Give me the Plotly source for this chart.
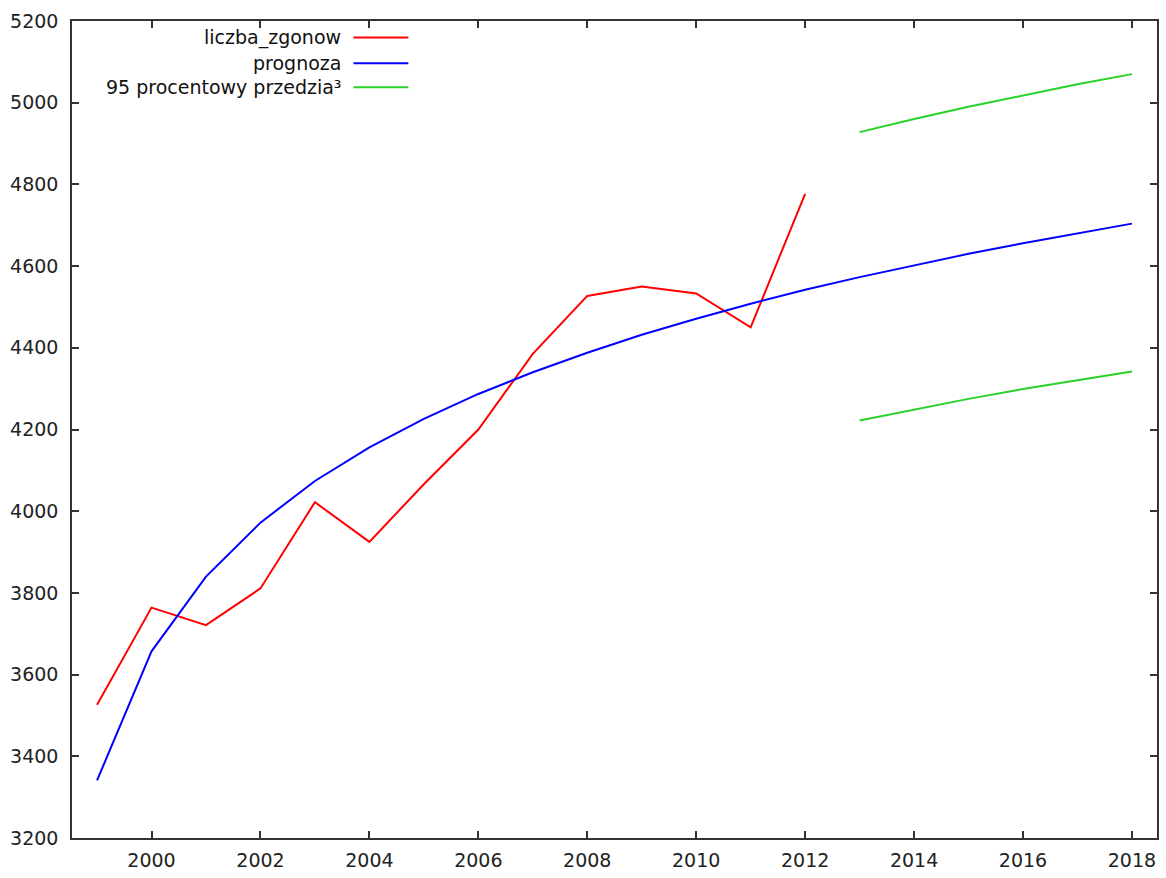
import plotly.graph_objects as go

years_obs = [1999, 2000, 2001, 2002, 2003, 2004, 2005, 2006, 2007, 2008, 2009, 2010, 2011, 2012]
liczba_zgonow = [3526, 3764, 3721, 3811, 4022, 3925, 4066, 4200, 4385, 4527, 4550, 4533, 4450, 4777]

years_fc = list(range(1999, 2019))
prognoza = [3341, 3657, 3840, 3972, 4074, 4156, 4226, 4287, 4340, 4388,
            4432, 4471, 4508, 4542, 4573, 4602, 4630, 4656, 4680, 4704]

years_ci = [2013, 2014, 2015, 2016, 2017, 2018]
ci_upper = [4928, 4960, 4990, 5018, 5045, 5070]
ci_lower = [4222, 4249, 4275, 4299, 4321, 4342]

legend_labels = ["liczba_zgonow", "prognoza", "95 procentowy przedzia\u00b3"]

RED = "rgb(255,0,0)"
BLUE = "rgb(0,0,255)"
GREEN = "rgb(40,210,40)"
colors = [RED, BLUE, GREEN]

fig = go.Figure()
fig.add_trace(go.Scatter(x=years_obs, y=liczba_zgonow, mode="lines",
                         line=dict(color=RED, width=2), showlegend=False))
fig.add_trace(go.Scatter(x=years_fc, y=prognoza, mode="lines",
                         line=dict(color=BLUE, width=2), showlegend=False))
fig.add_trace(go.Scatter(x=years_ci + [None] + years_ci,
                         y=ci_upper + [None] + ci_lower, mode="lines",
                         line=dict(color=GREEN, width=2), showlegend=False,
                         connectgaps=False))

FONT = "DejaVu Sans, Verdana, sans-serif"

W, H = 1166, 878
# plot box in screen pixels
X0, X1, Y0, Y1 = 72, 1159, 21, 843
ml, mr, mt, mb = X0, W - X1, Y0, H - Y1
pw, ph = X1 - X0, Y1 - Y0

rows_y = [37.5, 63.5, 87.7]
for lab, col, ry in zip(legend_labels, colors, rows_y):
    yp = (Y1 - ry) / ph
    fig.add_annotation(x=(344 - X0) / pw, y=yp, xref="paper", yref="paper",
                       text=lab, showarrow=False, xanchor="right", yanchor="middle",
                       font=dict(family=FONT, size=19, color="#111"))
    fig.add_shape(type="line", xref="paper", yref="paper",
                  x0=(354 - X0) / pw, x1=(409 - X0) / pw, y0=yp, y1=yp,
                  line=dict(color=col, width=2))

axis_common = dict(showline=True, mirror="allticks", linecolor="#333", linewidth=1.5,
                   ticks="inside", ticklen=7, tickwidth=1.5, tickcolor="#333",
                   showgrid=False, zeroline=False,
                   tickfont=dict(family=FONT, size=19, color="#222"))

fig.update_layout(
    width=W, height=H,
    margin=dict(l=ml, r=mr, t=mt, b=mb),
    paper_bgcolor="white", plot_bgcolor="white",
    xaxis=dict(range=[1998.54, 2018.46], tick0=2000, dtick=2, ticklabelstandoff=4,
               **axis_common),
    yaxis=dict(range=[3200, 5200], tick0=3200, dtick=200, ticklabelstandoff=8,
               **axis_common),
    showlegend=False,
)

fig.write_html("out.html",
               config={"displayModeBar": False},
               post_script="document.body.style.margin='0';document.body.style.overflow='hidden';")
